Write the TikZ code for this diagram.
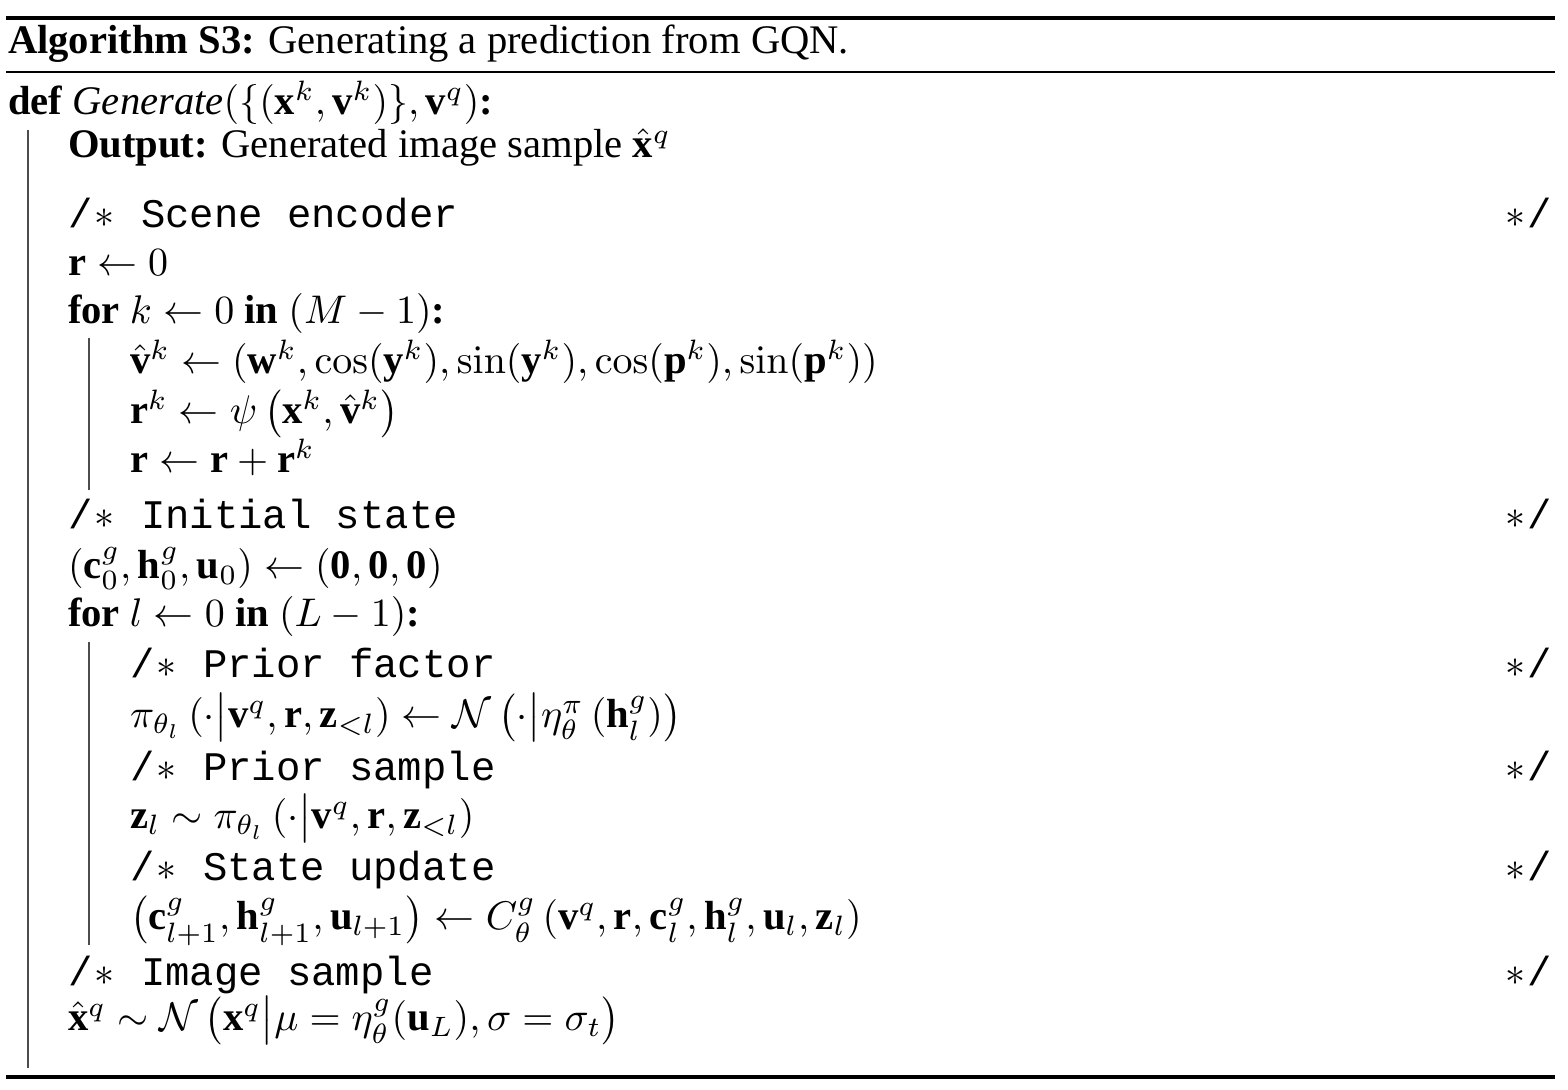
\documentclass[tikz,border=0pt]{standalone}
\usepackage[no-math]{fontspec}
\setmainfont{Liberation Serif}
\newfontfamily\libserif{Liberation Serif}[NFSSFamily=libserif]
\setmonofont{Liberation Mono}
\DeclareMathAlphabet{\mathbf}{TU}{libserif}{\bfdefault}{n}
\newcommand\cstar{\hbox to 0.6em{\hss$\ast$\hss}}
\newcommand\cmtopen[1]{{\ttfamily/\cstar\ #1}}
\tikzset{
  txt/.style={inner sep=0pt, outer sep=0pt, anchor=base west, font=\fontsize{10.15}{12}\selectfont},
  cmtend/.style={inner sep=0pt, outer sep=0pt, anchor=base east, font=\fontsize{10.15}{12}\selectfont\ttfamily},
  heavyrule/.style={line width=0.8pt},
  lightrule/.style={line width=0.5pt},
  blockbar/.style={line width=0.45pt, black!70}
}
\begin{document}
\begin{tikzpicture}[x=0.25pt,y=-0.25pt]
\useasboundingbox (0,0) rectangle (1568,1090);
% rules
\coordinate (r1a) at (6,18);   \coordinate (r1b) at (1555,18);
\coordinate (r2a) at (6,72);   \coordinate (r2b) at (1555,72);
\coordinate (r3a) at (6,1077); \coordinate (r3b) at (1555,1077);
\draw[heavyrule] (r1a) -- (r1b);
\draw[lightrule] (r2a) -- (r2b);
\draw[heavyrule] (r3a) -- (r3b);
% block bars
\coordinate (b0a) at (28,130);  \coordinate (b0b) at (28,1068);
\coordinate (b1a) at (89,338);  \coordinate (b1b) at (89,490);
\coordinate (b2a) at (89,642);  \coordinate (b2b) at (89,945);
\draw[blockbar] (b0a) -- (b0b);
\draw[blockbar] (b1a) -- (b1b);
\draw[blockbar] (b2a) -- (b2b);
% title
\node[txt] (title) at (8,54) {\textbf{Algorithm S3:} Generating a prediction from GQN.};
% body
\node[txt] (def) at (8,115) {\textbf{def} \textit{Generate}$(\{(\mathbf{x}^k,\mathbf{v}^k)\},\mathbf{v}^q)$\textbf{:}};
\node[txt] (out) at (68,158) {\textbf{Output:} Generated image sample $\hat{\mathbf{x}}^q$};
\node[txt] (c1) at (68,228) {\cmtopen{Scene encoder}};
\node[cmtend] (c1e) at (1552,228) {\cstar/};
\node[txt] (r0) at (68,276) {$\mathbf{r}\leftarrow 0$};
\node[txt] (fork) at (68,324) {\textbf{for} $k\leftarrow 0$ \textbf{in} $(M-1)$\textbf{:}};
\node[txt] (vhat) at (130,374) {$\hat{\mathbf{v}}^k\leftarrow(\mathbf{w}^k,\cos(\mathbf{y}^k),\sin(\mathbf{y}^k),\cos(\mathbf{p}^k),\sin(\mathbf{p}^k))$};
\node[txt] (rk) at (130,424) {$\mathbf{r}^k\leftarrow\psi\left(\mathbf{x}^k,\hat{\mathbf{v}}^k\right)$};
\node[txt] (rsum) at (130,473) {$\mathbf{r}\leftarrow\mathbf{r}+\mathbf{r}^k$};
\node[txt] (c2) at (68,529) {\cmtopen{Initial state}};
\node[cmtend] (c2e) at (1552,529) {\cstar/};
\node[txt] (init) at (68,579) {$(\mathbf{c}_0^g,\mathbf{h}_0^g,\mathbf{u}_0)\leftarrow(\mathbf{0},\mathbf{0},\mathbf{0})$};
\node[txt] (forl) at (68,627) {\textbf{for} $l\leftarrow 0$ \textbf{in} $(L-1)$\textbf{:}};
\node[txt] (c3) at (130,678) {\cmtopen{Prior factor}};
\node[cmtend] (c3e) at (1552,678) {\cstar/};
\node[txt] (prior) at (130,728) {$\pi_{\theta_l}\,(\cdot\big|\mathbf{v}^q,\mathbf{r},\mathbf{z}_{<l})\leftarrow\mathcal{N}\,\bigl(\cdot\big|\eta_\theta^\pi\left(\mathbf{h}_l^g\right)\bigr)$};
\node[txt] (c4) at (130,781) {\cmtopen{Prior sample}};
\node[cmtend] (c4e) at (1552,781) {\cstar/};
\node[txt] (zl) at (130,829) {$\mathbf{z}_l\sim\pi_{\theta_l}\,(\cdot\big|\mathbf{v}^q,\mathbf{r},\mathbf{z}_{<l})$};
\node[txt] (c5) at (130,881) {\cmtopen{State update}};
\node[cmtend] (c5e) at (1552,881) {\cstar/};
\node[txt] (upd) at (130,930) {$\left(\mathbf{c}_{l+1}^g,\mathbf{h}_{l+1}^g,\mathbf{u}_{l+1}\right)\leftarrow C_\theta^g\left(\mathbf{v}^q,\mathbf{r},\mathbf{c}_l^g,\mathbf{h}_l^g,\mathbf{u}_l,\mathbf{z}_l\right)$};
\node[txt] (c6) at (68,986) {\cmtopen{Image sample}};
\node[cmtend] (c6e) at (1552,986) {\cstar/};
\node[txt] (xq) at (68,1031) {$\hat{\mathbf{x}}^q\sim\mathcal{N}\,\bigl(\mathbf{x}^q\big|\mu=\eta_\theta^g(\mathbf{u}_L),\sigma=\sigma_t\bigr)$};
\end{tikzpicture}
\end{document}
